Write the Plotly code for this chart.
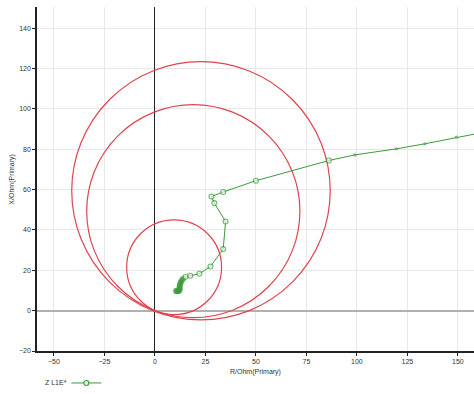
import plotly.graph_objects as go

# Impedance trajectory Z L1E* (R, X in primary ohms)
traj_r = [10.5, 11.0, 11.6, 12.1, 12.3, 12.2, 12.4, 12.7, 13.2, 13.9, 15.2, 17.5,
          22.0, 27.5, 33.8, 35.0, 29.4, 28.0, 33.8, 50.0, 86.1, 99.0, 119.6, 133.7,
          149.3, 170.0]
traj_x = [9.8, 9.6, 9.7, 10.0, 10.8, 11.8, 12.8, 13.8, 14.8, 15.8, 16.8, 17.3,
          18.3, 21.9, 30.5, 44.2, 53.3, 56.6, 58.8, 64.4, 74.4, 77.2, 80.2, 82.7,
          86.0, 89.8]

# Mho zone circles: centre R, centre X, radius
zone_cr = [22.8, 19.0, 9.5]
zone_cx = [59.4, 49.3, 21.5]
zone_rad = [64.0, 52.8, 23.5]

x_ticks = [-50, -25, 0, 25, 50, 75, 100, 125, 150]
y_ticks = [-20, 0, 20, 40, 60, 80, 100, 120, 140]

red = "#e0444e"
green = "#3c9a3c"
light = "#e8f4e8"
font = "Liberation Sans, Arial, sans-serif"

# dense samples near the start are drawn solid, far samples only as small ticks
n = len(traj_r)
msize = [5 if i < 21 else 2 for i in range(n)]
mfill = [green if i < 10 else light for i in range(n)]

fig = go.Figure()

for cr, cx, rad in zip(zone_cr, zone_cx, zone_rad):
    fig.add_shape(type="circle", xref="x", yref="y",
                  x0=cr - rad, x1=cr + rad, y0=cx - rad, y1=cx + rad,
                  line=dict(color=red, width=1.2), layer="between")

fig.add_trace(go.Scatter(
    x=traj_r, y=traj_x, mode="lines+markers", showlegend=False,
    line=dict(color=green, width=1),
    marker=dict(symbol="circle", size=msize, color=mfill,
                line=dict(color=green, width=1.1)),
))

# legend entry for the trajectory (label drawn to the left of the symbol)
fig.add_trace(go.Scatter(
    x=[None], y=[None], mode="lines+markers", name=" ",
    line=dict(color=green, width=1),
    marker=dict(symbol="circle", size=5, color=light,
                line=dict(color=green, width=1.1)),
))
fig.add_annotation(text="Z L1E*", xref="paper", yref="paper",
                   x=0.013, y=-0.093, xanchor="left", yanchor="middle",
                   showarrow=False, font=dict(size=7, color="#333"))

# axis titles
fig.add_annotation(text="R/Ohm(Primary)", xref="paper", yref="paper",
                   x=0.5, y=-0.06, xanchor="center", yanchor="middle",
                   showarrow=False, font=dict(size=7, color="#333"))
fig.add_annotation(text="X/Ohm(Primary)", xref="paper", yref="paper",
                   x=-0.058, y=0.5, xanchor="center", yanchor="middle",
                   textangle=-90, showarrow=False, font=dict(size=7, color="#333"))

fig.update_layout(
    width=474, height=394,
    margin=dict(l=37, r=0, t=7, b=43, autoexpand=False),
    paper_bgcolor="white", plot_bgcolor="white",
    font=dict(family=font, size=7, color="#333"),
    showlegend=True,
    legend=dict(orientation="h", xref="container", yref="container",
                x=0.14, y=0.028, xanchor="left", yanchor="middle",
                font=dict(size=7), bgcolor="rgba(0,0,0,0)", itemwidth=30),
    xaxis=dict(range=[-58.4, 158.0], tickvals=x_ticks, showgrid=True,
               gridcolor="#e8e8e8", gridwidth=1,
               zeroline=True, zerolinecolor="#222", zerolinewidth=1.2,
               showline=True, linecolor="#222", linewidth=1.5,
               ticks="outside", ticklen=3, tickcolor="#222"),
    yaxis=dict(range=[-20.0, 150.5], tickvals=y_ticks, showgrid=True,
               gridcolor="#e8e8e8", gridwidth=1,
               zeroline=True, zerolinecolor="#b0b0b0", zerolinewidth=2.2,
               showline=True, linecolor="#222", linewidth=1.5,
               ticks="outside", ticklen=3, tickcolor="#222"),
)

fig.write_html("out.html")
